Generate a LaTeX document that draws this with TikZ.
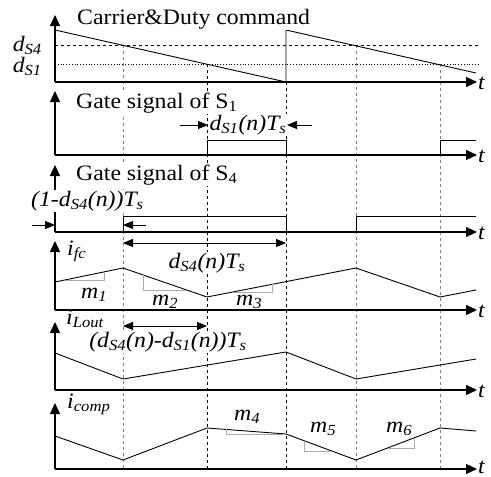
\documentclass[tikz,border=0pt]{standalone}
\usepackage{fontspec}
\setmainfont[FakeStretch=1.08]{Liberation Serif}
\usetikzlibrary{arrows.meta}
\tikzset{
    timing/.style={
        x=1pt, y=-1pt,
        line join=miter,
        font=\fontsize{22}{24}\selectfont,
    },
    axisline/.style={-{Triangle[length=11pt,width=10pt]}, line width=1.1pt},
    wave/.style={line width=0.9pt},
    slope/.style={gray!65, line width=1pt},
    instant/.style={dash pattern=on 3pt off 3pt, line width=0.8pt},
    span/.style={{Triangle[length=10pt,width=8pt]}-{Triangle[length=10pt,width=8pt]}, line width=1pt},
    pointer/.style={-{Triangle[length=10pt,width=8pt]}, line width=1pt},
    tag/.style={fill=white, inner sep=1pt},
    tmark/.style={anchor=west, inner sep=0pt, font=\fontsize{22}{24}\selectfont\itshape},
}
\newcommand{\timeaxis}[3][1]{% \timeaxis[t offset]{axis y}{arrow top}
    \draw[axisline] (55,#2) -- (55,#3);
    \draw[axisline] (55,#2) -- (477,#2);
    \node[tmark] at (478,{#2+#1}) {t};
}
\newcommand{\slopemark}[3]{% \slopemark{corner points}{label position}{index}
    \draw[slope] #1;
    \node[anchor=base west, inner sep=0pt] at (#2) {\textit{m\textsubscript{#3}}};
}

\begin{document}
\begin{tikzpicture}[timing]
    \useasboundingbox (0,0) rectangle (491,477);
    % switching instants
    \draw[instant, gray] (123,45) -- (123,469);
    \draw[instant] (207,64) -- (207,469);
    \draw[instant] (286,82) -- (286,469);
    \draw[instant, gray] (356,45) -- (356,469);
    \draw[instant, gray] (440,64) -- (440,469);
    % carrier and duty commands
    \draw[dash pattern=on 3pt off 3pt, line width=0.7pt] (55,45) -- (478,45);
    \draw[dotted, line width=0.8pt] (55,64) -- (478,64);
    \timeaxis{82}{15};
    \draw[wave] (55,30) -- (286,82) -- (286,30) -- (476,73);
    \node[anchor=base east, inner sep=0pt] at (42,51) {\textit{d\textsubscript{S4}}};
    \node[anchor=base east, inner sep=0pt] at (42,72) {\textit{d\textsubscript{S1}}};
    \node[tag, anchor=base west] at (76,24) {Carrier\&Duty command};
    % gate of S1
    \timeaxis{155}{91};
    \draw[wave] (207,155) -- (207,140) -- (286,140) -- (286,155);
    \draw[wave] (440,155) -- (440,140) -- (476,140);
    \node[tag, anchor=base west] at (75,108) {Gate signal of S\textsubscript{1}};
    \node[tag, anchor=base] (dsone) at (248,130) {\textit{d\textsubscript{S1}(n)T\textsubscript{s}}};
    \draw[pointer] (180,125) -- (208,125);
    \draw[pointer] (312,125) -- (287,125);
    % gate of S4
    \timeaxis{232}{165};
    \draw[wave] (123,232) -- (123,216) -- (286,216) -- (286,232);
    \draw[wave] (356,232) -- (356,216) -- (476,216);
    \node[tag, anchor=base west] at (75,180) {Gate signal of S\textsubscript{4}};
    \node[tag, anchor=base west] at (30,206) {\textit{(1-d\textsubscript{S4}(n))T\textsubscript{s}}};
    \draw[pointer] (32,225) -- (55,225);
    \draw[pointer] (146,225) -- (123,225);
    \draw[span] (123,243) -- (286,243);
    \node[tag, anchor=base] at (207,268) {\textit{d\textsubscript{S4}(n)T\textsubscript{s}}};
    % fuel cell current
    \timeaxis{310}{241};
    \draw[wave] (55,282) -- (123,268) -- (207,297) -- (356,268) -- (440,297) -- (476,290);
    \node[anchor=base west, inner sep=0pt] at (67,255) {\textit{i\textsubscript{fc}}};
    \slopemark{(65,280) -- (104,280) -- (104,272)}{81,298}{1}
    \slopemark{(143,275) -- (143,290) -- (187,290)}{152,305}{2}
    \slopemark{(233,292) -- (272,292) -- (272,284.4)}{236,305}{3}
    % output inductor current
    \timeaxis{390}{322};
    \draw[wave] (55,353) -- (123,379) -- (286,352) -- (356,379) -- (476,359);
    \draw[span] (123,326) -- (207,326);
    \node[tag, anchor=base] at (168,347) {\textit{(d\textsubscript{S4}(n)-d\textsubscript{S1}(n))T\textsubscript{s}}};
    \node[anchor=base west, inner sep=0pt] at (66,324) {\textit{i\textsubscript{Lout}}};
    % compensation current
    \timeaxis[-2]{469}{403};
    \draw[wave] (55,436) -- (123,460) -- (207,428) -- (286,434) -- (356,460) -- (440,428) -- (476,431);
    \node[anchor=base west, inner sep=0pt] at (67,408) {\textit{i\textsubscript{comp}}};
    \slopemark{(226,429.4) -- (226,434) -- (284,434)}{234,420}{4}
    \slopemark{(304,440.7) -- (304,451) -- (332,451)}{310,432}{5}
    \slopemark{(387.5,448) -- (414,448) -- (414,437.9)}{386,432}{6}
\end{tikzpicture}
\end{document}
